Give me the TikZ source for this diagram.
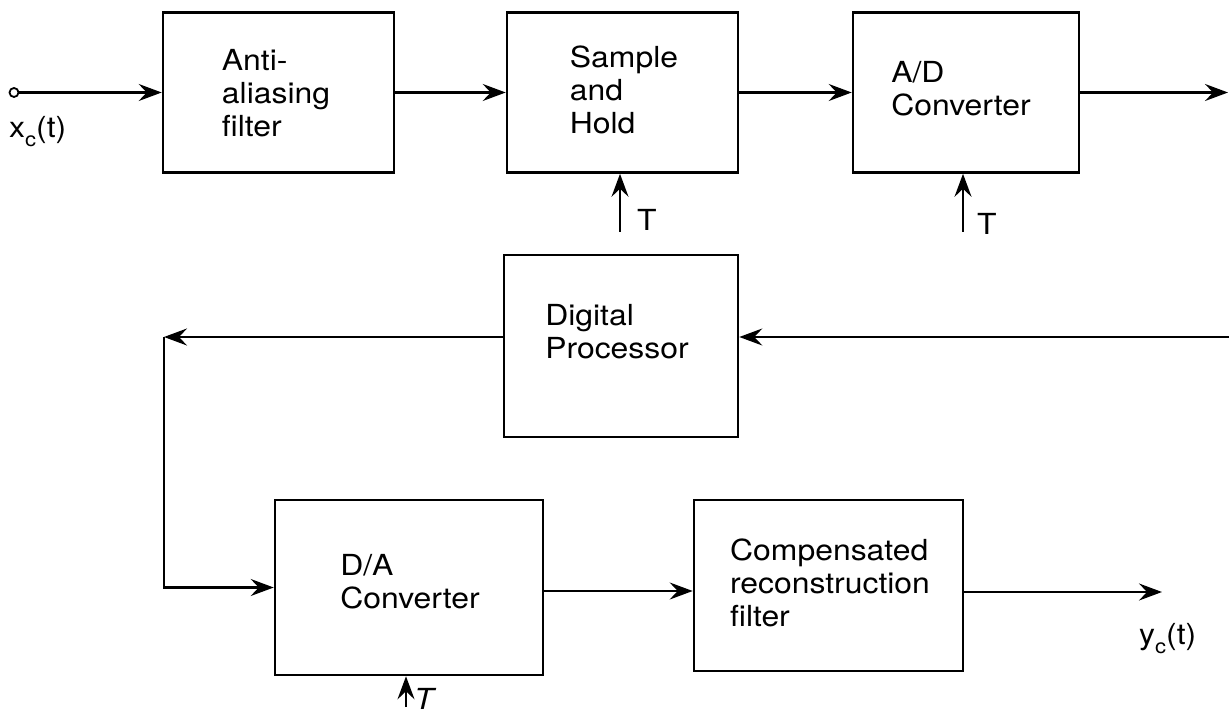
\documentclass[tikz,border=0pt]{standalone}
\usepackage{fontspec}
\setmainfont{TeX Gyre Heros}[FakeStretch=1.1]
\usetikzlibrary{arrows.meta}
\begin{document}
\begin{tikzpicture}[x=1pt,y=-1pt,
  blk/.style={draw, line width=2.6pt, inner sep=0pt},
  txt/.style={align=left, inner sep=0pt, font=\fontsize{29}{33}\selectfont},
  lbl/.style={inner sep=0pt, font=\fontsize{29}{33}\selectfont},
  conn/.style={line width=2.2pt},
  arr/.style={conn, -{Stealth[length=23pt,width=17pt,inset=8pt]}}]
\useasboundingbox (0,0) rectangle (1229,714);
% boxes
\node[blk, minimum width=231pt, minimum height=160pt] (aa) at (278.5,92.5) {};
\node[blk, minimum width=231pt, minimum height=160pt] (sh) at (622.5,92.5) {};
\node[blk, minimum width=226pt, minimum height=160pt] (ad) at (966,92.5) {};
\node[blk, minimum width=234pt, minimum height=182pt] (dp) at (621,346) {};
\node[blk, minimum width=268pt, minimum height=175pt] (da) at (409,587.5) {};
\node[blk, minimum width=269pt, minimum height=171pt] (cf) at (828.5,585.5) {};
% box texts
\node[txt] (aat) at (276,93) {Anti-\\aliasing\\filter};
\node[txt] (sht) at (624,90) {Sample\\and\\Hold};
\node[txt] (adt) at (961,89) {A/D\\Converter};
\node[txt] (dpt) at (617,332) {Digital\\Processor};
\node[txt] (dat) at (410,582) {D/A\\Converter};
\node[txt] (cft) at (830,583) {Compensated\\reconstruction\\filter};
% input
\node[circle, draw, line width=1.8pt, inner sep=0pt, minimum size=9pt] (src) at (14,92.5) {};
\draw[arr] (src.east) -- (aa.west);
\node[lbl, anchor=base west] (xl) at (9,138) {x\raisebox{-9pt}{\fontsize{20}{20}\selectfont c}(t)};
\draw[arr] (aa.east) -- (sh.west);
\draw[arr] (sh.east) -- (ad.west);
\coordinate (outr) at (1228,92.5);
\draw[arr] (ad.east) -- (outr);
% clock inputs
\coordinate (t1) at (620,232);
\draw[arr] (t1) -- (t1 |- sh.south);
\node[lbl, anchor=base west] (t1l) at (637,231) {T};
\coordinate (t2) at (963,232);
\draw[arr] (t2) -- (t2 |- ad.south);
\node[lbl, anchor=base west] (t2l) at (977,235) {T};
\coordinate (t3) at (406,707);
\draw[arr] (t3) -- (t3 |- da.south);
\node[lbl, anchor=base west] (t3l) at (414,709) {\itshape T};
% digital processor loop
\coordinate (rin) at (1229,337);
\draw[arr] (rin) -- (rin -| dp.east);
\coordinate (lc) at (164,337);
\draw[arr] (lc -| dp.west) -- (lc);
\draw[arr] (lc) |- (da.west);
% bottom chain
\coordinate (mid) at (600,591);
\draw[arr] (mid -| da.east) -- (mid -| cf.west);
\coordinate (yout) at (1162,592);
\draw[arr] (yout -| cf.east) -- (yout);
\node[lbl, anchor=base west] (yl) at (1139,644) {y\raisebox{-9pt}{\fontsize{20}{20}\selectfont c}(t)};
\end{tikzpicture}
\end{document}
